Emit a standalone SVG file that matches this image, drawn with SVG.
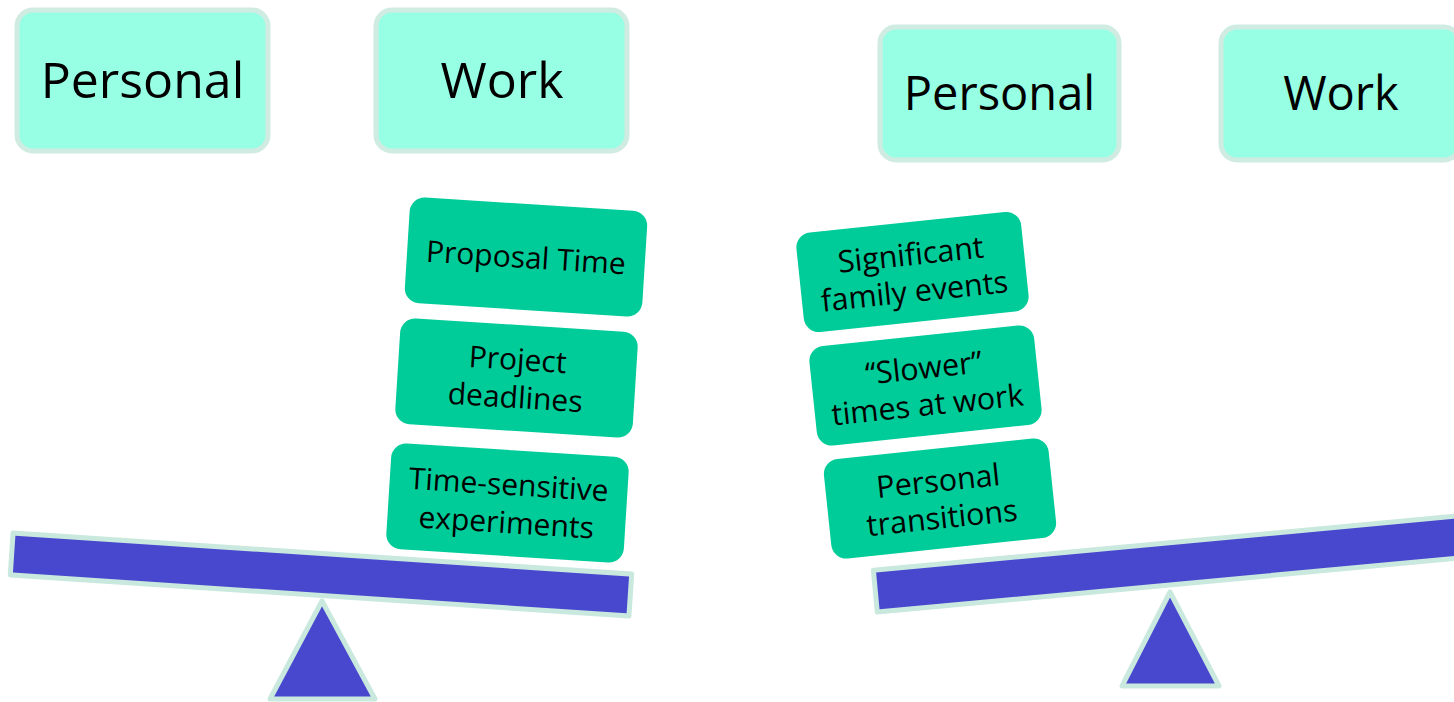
<svg xmlns="http://www.w3.org/2000/svg" width="1454" height="702" viewBox="0 0 1454 702">
  <style>
    .label { fill: #97ffe3; stroke: #d0ebe2; stroke-width: 5; }
    .item { fill: #00cc99; }
    .beam { fill: #4848cf; stroke: #c9e8de; stroke-width: 5; stroke-linejoin: round; }
    .big { font-family: "Open Sans", "Noto Sans", sans-serif; fill: #000; text-anchor: middle; }
    .txt { font-family: "Open Sans", "Noto Sans", sans-serif; font-size: 30px; fill: #000; text-anchor: middle; }
    .txt-r { font-size: 30.5px; }
  </style>

  <rect width="1454" height="702" fill="#ffffff"/>

  <!-- left scale: work outweighs personal -->
  <g id="left-personal">
    <rect class="label" x="17" y="10" width="251" height="141" rx="16"/>
    <text class="big" x="142.5" y="98" font-size="50">Personal</text>
  </g>
  <g id="left-work">
    <rect class="label" x="376" y="10" width="251" height="141" rx="16"/>
    <text class="big" x="502" y="98" font-size="50">Work</text>
  </g>

  <g id="left-proposal" transform="translate(526,257) rotate(3.6)">
    <rect class="item" x="-119" y="-53" width="238" height="106" rx="15"/>
    <text class="txt" x="0" y="11">Proposal Time</text>
  </g>
  <g id="left-deadlines" transform="translate(516.5,378) rotate(3.6)">
    <rect class="item" x="-119" y="-53" width="238" height="106" rx="15"/>
    <text class="txt" x="0" y="-8">Project</text>
    <text class="txt" x="0" y="30">deadlines</text>
  </g>
  <g id="left-experiments" transform="translate(507.5,503) rotate(3.6)">
    <rect class="item" x="-119" y="-53" width="238" height="106" rx="15"/>
    <text class="txt" x="0" y="-8">Time-sensitive</text>
    <text class="txt" x="0" y="30">experiments</text>
  </g>

  <g id="left-beam">
    <rect class="beam" x="-310" y="-21" width="620" height="42" transform="translate(321,574.5) rotate(3.8)"/>
  </g>
  <g id="left-fulcrum">
    <polygon class="beam" points="322,601 375,699 270,699"/>
  </g>

  <!-- right scale: personal outweighs work -->
  <g id="right-personal">
    <rect class="label" x="880" y="27" width="239" height="133" rx="16"/>
    <text class="big" x="999.5" y="110" font-size="47">Personal</text>
  </g>
  <g id="right-work">
    <rect class="label" x="1221" y="27" width="239" height="133" rx="16"/>
    <text class="big" x="1341" y="110" font-size="47">Work</text>
  </g>

  <g id="right-family" transform="translate(912.5,272) rotate(-6)">
    <rect class="item" x="-113" y="-50" width="226" height="100" rx="15"/>
    <text class="txt txt-r" x="0" y="-7">Significant</text>
    <text class="txt txt-r" x="0" y="30">family events</text>
  </g>
  <g id="right-slower" transform="translate(925.5,385.5) rotate(-6)">
    <rect class="item" x="-113" y="-50" width="226" height="100" rx="15"/>
    <text class="txt txt-r" x="0" y="-7">“Slower”</text>
    <text class="txt txt-r" x="0" y="30">times at work</text>
  </g>
  <g id="right-transitions" transform="translate(940,498.5) rotate(-6)">
    <rect class="item" x="-113" y="-50" width="226" height="100" rx="15"/>
    <text class="txt txt-r" x="0" y="-7">Personal</text>
    <text class="txt txt-r" x="0" y="30">transitions</text>
  </g>

  <g id="right-beam">
    <rect class="beam" x="-310" y="-21" width="620" height="42" transform="translate(1184,562.5) rotate(-5.3)"/>
  </g>
  <g id="right-fulcrum">
    <polygon class="beam" points="1170,592 1219,686 1122,686"/>
  </g>
</svg>
